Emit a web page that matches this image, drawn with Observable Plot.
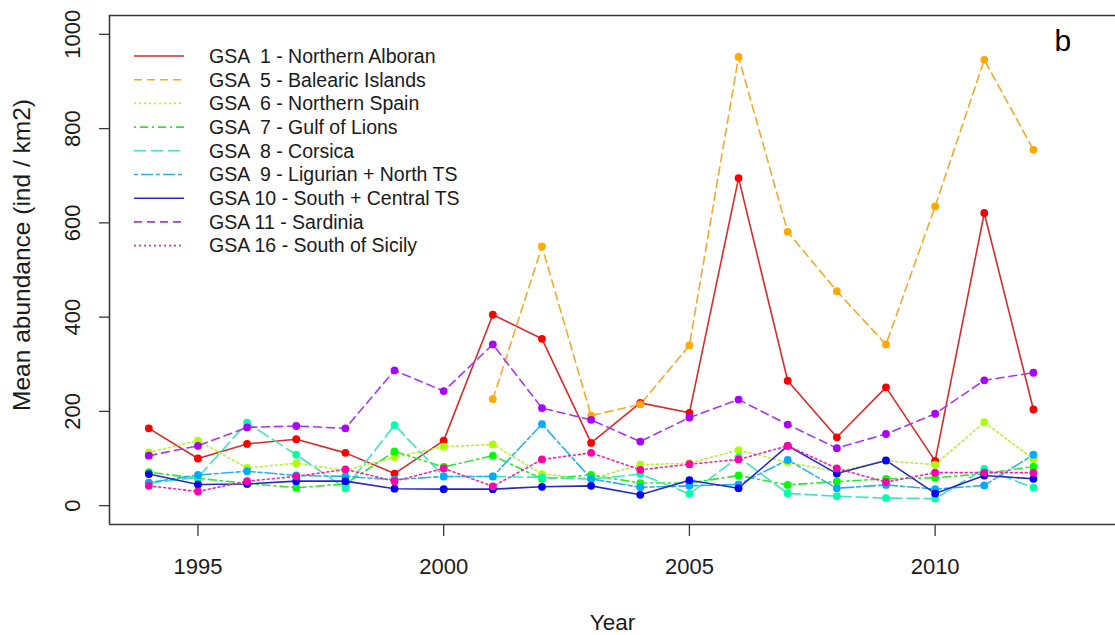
<!DOCTYPE html>
<html>
<head>
<meta charset="utf-8">
<script src="https://cdn.jsdelivr.net/npm/d3@7"></script>
<script src="https://cdn.jsdelivr.net/npm/@observablehq/plot@0.6"></script>
<style>
  body { margin: 0; background: #fff; }
  #chart { position: relative; width: 1115px; height: 635px; }
  svg { font-family: "Liberation Sans", Arial, sans-serif; }
</style>
</head>
<body>
<div id="chart"></div>
<script>
// ---- data ----
const years = [1994,1995,1996,1997,1998,1999,2000,2001,2002,2003,2004,2005,2006,2007,2008,2009,2010,2011,2012];
const gsa1  = [164,100,131,141,112,68,138,405,354,133,218,197,695,265,145,251,95,621,204];
const gsa5  = [null,null,null,null,null,null,null,226,550,191,215,340,952,581,455,342,635,946,755];
const gsa6  = [113,138,80,90,75,103,125,130,67,57,87,90,118,92,72,95,87,177,99];
const gsa7  = [71,58,47,38,46,115,82,106,57,65,48,48,64,44,51,57,59,68,83];
const gsa8  = [48,60,176,108,37,171,62,62,60,56,67,25,103,26,20,16,15,78,38];
const gsa9  = [49,65,73,64,62,55,62,62,173,57,39,42,45,97,37,44,35,43,108];
const gsa10 = [67,45,46,52,52,36,35,35,40,42,23,54,37,127,68,96,26,64,57];
const gsa11 = [106,127,166,169,164,287,243,342,207,182,136,187,225,172,122,152,195,266,282];
const gsa16 = [42,30,52,62,77,52,79,41,98,112,76,88,98,127,79,50,70,70,70];
const seriesLabels = [
  "GSA  1 - Northern Alboran",
  "GSA  5 - Balearic Islands",
  "GSA  6 - Northern Spain",
  "GSA  7 - Gulf of Lions",
  "GSA  8 - Corsica",
  "GSA  9 - Ligurian + North TS",
  "GSA 10 - South + Central TS",
  "GSA 11 - Sardinia",
  "GSA 16 - South of Sicily"
];
const seriesValues = [gsa1, gsa5, gsa6, gsa7, gsa8, gsa9, gsa10, gsa11, gsa16];
const xTicks = [1995, 2000, 2005, 2010];
const yTicks = [0, 200, 400, 600, 800, 1000];
const yTitle = "Mean abundance (ind / km2)";
const xTitle = "Year";
const panelTag = "b";

// ---- styles ----
const colors = ["#FF0000","#FFAA00","#AAFF00","#00FF00","#00FFAA","#00AAFF","#0000FF","#AA00FF","#FF00AA"];
const lineColors = ["#d92b2b","#f2aa2a","#b8f03a","#2ee62e","#3de6c0","#2ab0ee","#2828c8","#a838ee","#ee2aa8"];
const dashes = ["none","8,5","2,3","2,4,8,4","12,5","4,3,12,3","none","8,5","2,3"];

const rows = [];
seriesValues.forEach((vals, s) => {
  vals.forEach((v, i) => { if (v != null) rows.push({series: s, year: years[i], value: v}); });
});

const frameColor = "#3a3a3a";
const textColor = "#1a1a1a";
const marks = [];
seriesValues.forEach((vals, s) => {
  const d = rows.filter(r => r.series === s);
  marks.push(Plot.line(d, {x: "year", y: "value", stroke: lineColors[s], strokeWidth: 1.6, strokeDasharray: dashes[s] === "none" ? undefined : dashes[s]}));
});
seriesValues.forEach((vals, s) => {
  const d = rows.filter(r => r.series === s);
  marks.push(Plot.dot(d, {x: "year", y: "value", fill: colors[s], r: 3.9}));
});

const plot = Plot.plot({
  width: 1115,
  height: 635,
  marginLeft: 109,
  marginRight: 0,
  marginTop: 15,
  marginBottom: 111,
  x: {domain: [1993.2, 2013.67], axis: null},
  y: {domain: [-40, 1040], axis: null},
  marks: [
    ...marks,
    Plot.ruleY([-40, 1040], {stroke: frameColor, strokeWidth: 1.6}),
    Plot.ruleX([1993.2], {stroke: frameColor, strokeWidth: 1.6}),
    Plot.axisX({ticks: xTicks, tickSize: 12, tickFormat: () => "", stroke: frameColor, strokeWidth: 1.3, label: null}),
    Plot.axisY({ticks: yTicks, tickSize: 10, tickFormat: () => "", stroke: frameColor, strokeWidth: 1.3, label: null}),
    Plot.text(xTicks, {x: d => d, text: d => String(d), frameAnchor: "bottom", dy: 42, textAnchor: "middle", lineAnchor: "middle", fontSize: 22, fill: textColor}),
    Plot.text([xTitle], {text: d => d, frameAnchor: "bottom", dy: 98, textAnchor: "middle", lineAnchor: "middle", fontSize: 22.5, fill: textColor}),
    Plot.text(yTicks, {y: d => d, text: d => String(d), frameAnchor: "left", dx: -37, rotate: -90, textAnchor: "middle", lineAnchor: "middle", fontSize: 22, fill: textColor}),
    Plot.text([yTitle], {text: d => d, frameAnchor: "left", dx: -87, dy: -15, rotate: -90, textAnchor: "middle", lineAnchor: "middle", fontSize: 24.5, fill: textColor}),
    Plot.text([panelTag], {text: d => d, frameAnchor: "top-right", dx: -61, dy: 26, textAnchor: "start", lineAnchor: "middle", fontSize: 30, fill: "#000"})
  ]
});

document.getElementById("chart").appendChild(plot);

// ---- legend (inside plot, top-left) ----
const svg = d3.select(plot);
const lg = svg.append("g").attr("class", "legend").attr("text-anchor", "start");
seriesLabels.forEach((lab, i) => {
  const y = 56 + i * 23.7;
  lg.append("line")
    .attr("x1", 134).attr("x2", 184).attr("y1", y).attr("y2", y)
    .attr("stroke", lineColors[i]).attr("stroke-width", 1.6)
    .attr("stroke-dasharray", dashes[i] === "none" ? null : dashes[i]);
  lg.append("text")
    .attr("x", 209).attr("y", y).attr("dy", "0.35em")
    .attr("text-anchor", "start")
    .attr("font-size", 19.5).attr("fill", textColor)
    .style("white-space", "pre")
    .text(lab);
});
</script>
</body>
</html>
